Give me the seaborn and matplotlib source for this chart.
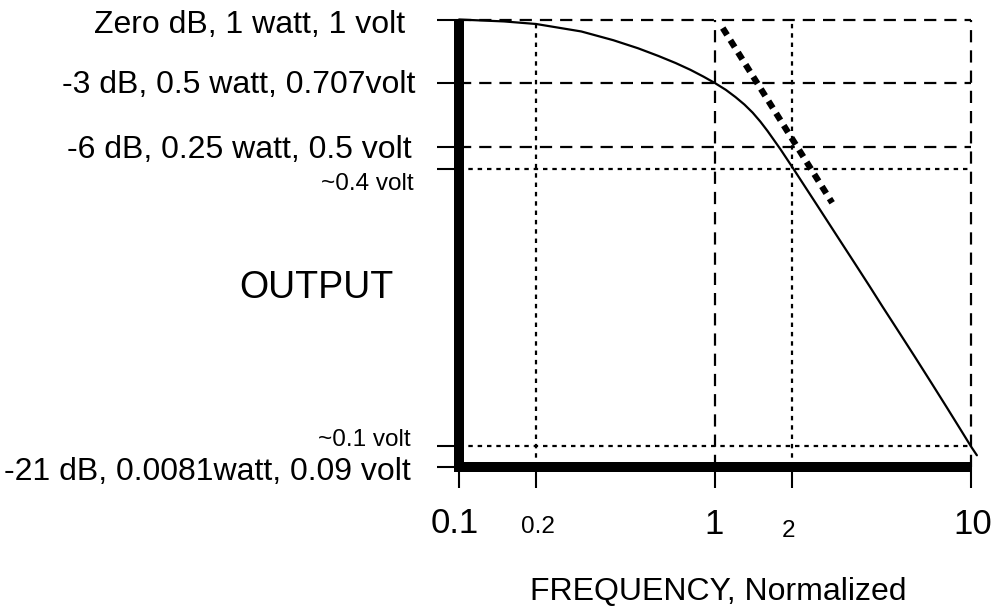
import matplotlib
matplotlib.use("Agg")
import matplotlib.pyplot as plt
import pandas as pd
import seaborn as sns

# Normalized low-pass response: frequency vs. output level in dB
freq = [0.1, 0.15, 0.2, 0.3, 0.4, 0.5, 0.6, 0.7, 0.8, 0.9, 1.0, 1.1, 1.2,
        1.3, 1.4, 1.5, 1.6, 1.8, 2.0, 2.5, 3.0, 3.5, 4.0, 4.5, 5.0, 6.0,
        7.0, 8.0, 9.0, 10.0, 10.5]
gain_db = [0.0, -0.09, -0.21, -0.56, -0.97, -1.35, -1.71, -2.04, -2.36,
           -2.68, -2.99, -3.30, -3.64, -3.99, -4.37, -4.79, -5.23, -6.10,
           -6.93, -8.72, -10.19, -11.43, -12.51, -13.48, -14.33, -15.81,
           -17.08, -18.19, -19.18, -20.07, -20.45]

# -20 dB/decade asymptote beyond the corner frequency
asym_freq = [1.07, 2.86]
asym_db = [-0.4, -8.6]

# Reference levels on the output axis
level_db = [0, -3, -6, -7, -20, -21]
level_labels = ["Zero dB, 1 watt, 1 volt",
                "-3 dB, 0.5 watt, 0.707volt",
                "-6 dB, 0.25 watt, 0.5 volt",
                "~0.4 volt",
                "~0.1 volt",
                "-21 dB, 0.0081watt, 0.09 volt"]
dashed_levels = [0, -3, -6]
dotted_levels = [-7, -20]

# Frequency marks
freq_ticks = [0.1, 0.2, 1, 2, 10]
freq_tick_labels = ["0.1", "0.2", "1", "2", "10"]
dashed_freqs = [1, 10]
dotted_freqs = [0.2, 2]

sns.set_theme(style="white")
plt.rcParams["font.family"] = ["Liberation Sans", "DejaVu Sans"]

fig = plt.figure(figsize=(9.98, 6.08), dpi=100)
ax = fig.add_axes([0.4599, 0.2319, 0.5135, 0.7360])
ax.set_xscale("log")
ax.set_xlim(0.1, 10)
ax.set_ylim(-21, 0)

grid_lw = 1.6
dash_long = (0, (5.5, 3.6))
dash_short = (0, (2.0, 2.2))
for v in dashed_levels:
    ax.axhline(v, color="black", lw=grid_lw, ls=dash_long, clip_on=False, zorder=1)
for v in dotted_levels:
    ax.axhline(v, color="black", lw=grid_lw, ls=dash_short, clip_on=False, zorder=1)
for f in dashed_freqs:
    ax.axvline(f, color="black", lw=grid_lw, ls=dash_long, clip_on=False, zorder=1)
for f in dotted_freqs:
    ax.axvline(f, color="black", lw=grid_lw, ls=dash_short, clip_on=False, zorder=1)

resp = pd.DataFrame({"freq": freq, "gain": gain_db})
sns.lineplot(data=resp, x="freq", y="gain", ax=ax, color="black", lw=1.6,
             clip_on=False, zorder=3)
asym = pd.DataFrame({"freq": asym_freq, "gain": asym_db})
sns.lineplot(data=asym, x="freq", y="gain", ax=ax, color="black", lw=4.5,
             linestyle=(0, (1.3, 1.0)), dash_capstyle="butt", clip_on=False, zorder=3)

# Heavy axis lines
for side in ["top", "right"]:
    ax.spines[side].set_visible(False)
for side in ["left", "bottom"]:
    ax.spines[side].set_linewidth(7.2)
    ax.spines[side].set_color("black")
    ax.spines[side].set_capstyle("butt")
ax.spines["left"].set_bounds(-21.24, 0)

ax.set_yticks(level_db)
ax.set_yticklabels([])
ax.set_xticks(freq_ticks)
ax.set_xticklabels([])
ax.minorticks_off()
ax.tick_params(axis="y", direction="out", length=15.8, width=1.5, color="black", left=True)
ax.tick_params(axis="x", direction="out", length=15.0, width=1.5, color="black", bottom=True)

# Level labels: (x offset, y offset, font size) in points
ylab_style = [(-38.9, -9.7, 23), (-31.7, -6.9, 23), (-33.8, -7.9, 23),
              (-33.0, -15.4, 17.5), (-35.0, 0.0, 17.5), (-35.0, -9.4, 23)]
for lvl, txt, (dx, dy, fs) in zip(level_db, level_labels, ylab_style):
    ax.annotate(txt, xy=(0, lvl), xycoords=ax.get_yaxis_transform(),
                xytext=(dx, dy), textcoords="offset points",
                ha="right", va="baseline", fontsize=fs, color="black",
                annotation_clip=False)

xlab_style = [(-2.9, -47.5, 25), (1.0, -47.5, 17.5), (-1.0, -48.2, 25),
              (-2.9, -50.4, 17.5), (1.0, -48.2, 25)]
for f, txt, (dx, dy, fs) in zip(freq_ticks, freq_tick_labels, xlab_style):
    ax.annotate(txt, xy=(f, 0), xycoords=ax.get_xaxis_transform(),
                xytext=(dx, dy), textcoords="offset points",
                ha="center", va="baseline", fontsize=fs, color="black",
                annotation_clip=False)

ax.set_ylabel("OUTPUT", rotation=0, fontsize=27, ha="center", va="baseline", color="black")
ax.yaxis.set_label_coords(-0.279, 0.378)
ax.set_xlabel("FREQUENCY, Normalized", fontsize=23, ha="center", va="baseline", color="black")
ax.xaxis.set_label_coords(0.505, -0.297)

fig.savefig("out.png", dpi=100, facecolor="white")
